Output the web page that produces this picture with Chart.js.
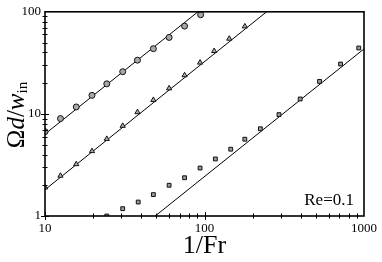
<!DOCTYPE html>
<html>
<head>
<meta charset="utf-8">
<script src="https://cdn.jsdelivr.net/npm/chart.js@4.4.0/dist/chart.umd.min.js"></script>
<style>
  html, body { margin: 0; padding: 0; background: #fff; }
  #wrap { width: 382px; height: 262px; }
</style>
</head>
<body>
<div id="wrap"><canvas id="chart"></canvas></div>
<script>
const circleX = [10, 12.5, 15.7, 19.7, 24.4, 30.7, 38, 47.8, 60, 75, 94.6];
const circleY = [6.7, 9.0, 11.7, 15.2, 19.7, 25.9, 33.6, 43.5, 56.1, 72.4, 93.6];

const triangleX = [10, 12.5, 15.7, 19.7, 24.4, 30.7, 38, 47.8, 60, 75, 93.8, 115, 143, 179];
const triangleY = [1.9, 2.48, 3.22, 4.32, 5.69, 7.64, 10.4, 13.7, 17.8, 23.9, 31.8, 41.3, 54.5, 71.9];

const squareX = [24.4, 30.7, 38.4, 47.8, 60, 75, 93.8, 117, 146, 179, 224, 293, 398, 526, 713, 927];
const squareY = [1.0, 1.18, 1.37, 1.62, 2.0, 2.37, 2.95, 3.62, 4.51, 5.65, 7.15, 9.84, 14.0, 20.8, 30.8, 44.2];

// Fitted power-law lines (end points)
const fitCircleX = [10, 91];
const fitCircleY = [6.35, 100];
const fitTriangleX = [10, 245];
const fitTriangleY = [1.81, 100];
const fitSquareX = [49.1, 1000];
const fitSquareY = [1, 43.3];

const xTicks = [10, 100, 1000];
const yTicks = [1, 10, 100];

const SERIF = '"Liberation Serif", "DejaVu Serif", serif';

function toPoints(xs, ys) {
  return xs.map((x, i) => ({ x: x, y: ys[i] }));
}

function fitLine(xs, ys) {
  return {
    data: toPoints(xs, ys),
    showLine: true,
    borderColor: '#000',
    borderWidth: 1,
    pointRadius: 0,
    pointHoverRadius: 0,
    order: 2
  };
}

function markers(xs, ys, style, radius, fill) {
  return {
    data: toPoints(xs, ys),
    showLine: false,
    pointStyle: style,
    pointRadius: radius,
    pointBackgroundColor: fill,
    pointBorderColor: '#111',
    pointBorderWidth: 1,
    order: 1
  };
}

// Ticks crossing the axes, box frame, axis label and Re annotation
const decorations = {
  id: 'decorations',
  afterDraw(chart) {
    const ctx = chart.ctx;
    const a = chart.chartArea;
    const xs = chart.scales.x;
    const ys = chart.scales.y;
    ctx.save();
    ctx.strokeStyle = '#000';
    ctx.lineWidth = 1;

    // minor/major ticks
    for (let dec = 10; dec < 1000; dec *= 10) {
      for (let m = 1; m <= 9; m++) {
        const px = Math.round(xs.getPixelForValue(dec * m)) + 0.5;
        const len = m === 1 ? 4 : 2.5;
        ctx.beginPath();
        ctx.moveTo(px, a.bottom - len);
        ctx.lineTo(px, a.bottom + len);
        ctx.stroke();
      }
    }
    for (let dec = 1; dec < 100; dec *= 10) {
      for (let m = 1; m <= 9; m++) {
        const py = Math.round(ys.getPixelForValue(dec * m)) + 0.5;
        const len = m === 1 ? 4 : 2.5;
        ctx.beginPath();
        ctx.moveTo(a.left - len, py);
        ctx.lineTo(a.left + len, py);
        ctx.stroke();
      }
    }

    // frame
    ctx.lineWidth = 1.6;
    ctx.strokeRect(a.left, a.top, a.right - a.left, a.bottom - a.top);

    // annotation
    ctx.fillStyle = '#000';
    ctx.font = '17px ' + SERIF;
    ctx.textAlign = 'right';
    ctx.textBaseline = 'alphabetic';
    ctx.fillText('Re=0.1', a.right - 10, a.bottom - 11);

    // y axis title: Ωd/w_in
    ctx.translate(15, 115);
    ctx.rotate(-Math.PI / 2);
    const parts = [
      { t: 'Ω', f: '25px ' + SERIF, dy: 0 },
      { t: 'd', f: 'italic 25px ' + SERIF, dy: 0 },
      { t: '/', f: '25px ' + SERIF, dy: 0 },
      { t: 'w', f: 'italic 25px ' + SERIF, dy: 0 },
      { t: 'in', f: '15px ' + SERIF, dy: 6 }
    ];
    let total = 0;
    parts.forEach(p => { ctx.font = p.f; p.w = ctx.measureText(p.t).width; total += p.w; });
    let x = -total / 2;
    ctx.textAlign = 'left';
    ctx.textBaseline = 'middle';
    parts.forEach(p => {
      ctx.font = p.f;
      ctx.fillText(p.t, x, p.dy + 2);
      x += p.w;
    });
    ctx.restore();
  }
};

const ctx = document.getElementById('chart');
new Chart(ctx, {
  type: 'scatter',
  data: {
    datasets: [
      fitLine(fitCircleX, fitCircleY),
      fitLine(fitTriangleX, fitTriangleY),
      fitLine(fitSquareX, fitSquareY),
      markers(circleX, circleY, 'circle', 3, '#a8a8a8'),
      markers(triangleX, triangleY, 'triangle', 3, '#b0b0b0'),
      markers(squareX, squareY, 'rect', 2.7, '#9a9a9a')
    ]
  },
  options: {
    responsive: true,
    maintainAspectRatio: false,
    animation: false,
    layout: { padding: { top: 6, right: 14, left: 0, bottom: 0 } },
    plugins: {
      legend: { display: false },
      tooltip: { enabled: false }
    },
    scales: {
      x: {
        type: 'logarithmic',
        min: 10,
        max: 1000,
        border: { display: false },
        grid: { display: false, drawTicks: false },
        afterFit(scale) { scale.height = 46; },
        ticks: {
          autoSkip: false,
          maxRotation: 0,
          padding: 5,
          color: '#000',
          font: { family: SERIF, size: 13 },
          callback: v => xTicks.includes(v) ? String(v) : ''
        },
        title: {
          display: true,
          text: '1/Fr',
          color: '#000',
          font: { family: SERIF, size: 26 },
          padding: { top: 0, bottom: 0 }
        }
      },
      y: {
        type: 'logarithmic',
        min: 1,
        max: 100,
        border: { display: false },
        grid: { display: false, drawTicks: false },
        afterFit(scale) { scale.width = 45; },
        ticks: {
          autoSkip: false,
          padding: 4,
          color: '#000',
          font: { family: SERIF, size: 13 },
          callback: v => yTicks.includes(v) ? String(v) : ''
        }
      }
    }
  },
  plugins: [decorations]
});
</script>
</body>
</html>
